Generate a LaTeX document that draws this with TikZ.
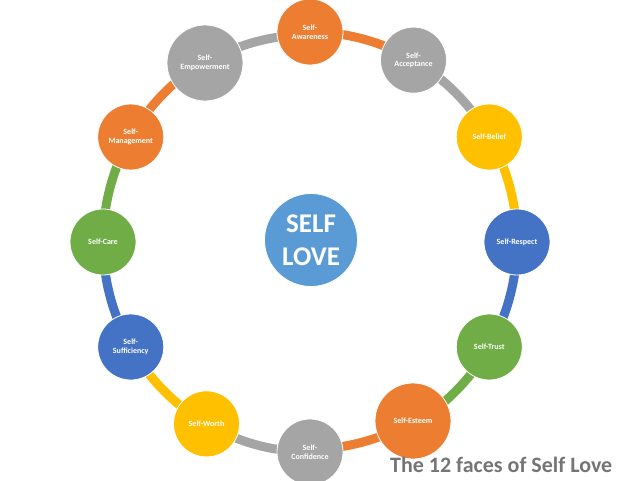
\documentclass[tikz,border=0pt]{standalone}
\usepackage{fontspec}
\setmainfont{Carlito}
\usetikzlibrary{backgrounds}
\definecolor{cOrange}{HTML}{ED7D31}
\definecolor{cGray}{HTML}{A5A5A5}
\definecolor{cYellow}{HTML}{FFC000}
\definecolor{cBlue}{HTML}{4472C4}
\definecolor{cGreen}{HTML}{70AD47}
\definecolor{cLight}{HTML}{5B9BD5}
\definecolor{cTitle}{HTML}{757575}
\newcommand\ringpos[1]{({310+207*cos(#1)},{242-210*sin(#1)})}
\begin{document}
\begin{tikzpicture}[x=1pt,y=-1pt,
  face/.style={circle, draw=white, line width=0.8pt, minimum size=66pt, inner sep=0pt,
    align=center, text=white, font=\fontsize{8}{8.6}\selectfont\bfseries},
  bigface/.style={minimum size=76pt},
  ring/.style={line width=9pt},
  centre/.style={circle, draw=white, line width=0.8pt, fill=cLight, minimum size=93pt,
    inner sep=0pt, align=center, text=white, font=\fontsize{27}{33}\selectfont\bfseries},
  titletext/.style={anchor=base west, inner sep=0pt, text=cTitle,
    font=\fontsize{22}{22}\selectfont\bfseries}
]
\useasboundingbox (0,0) rectangle (618,481);
\node[face, fill=cOrange] (aw) at \ringpos{90} {Self-\\Awareness};
\node[face, fill=cGray] (ac) at \ringpos{60} {Self-\\Acceptance};
\node[face, fill=cYellow] (be) at \ringpos{30} {Self-Belief};
\node[face, fill=cBlue] (re) at \ringpos{0} {Self-Respect};
\node[face, fill=cGreen] (tr) at \ringpos{-30} {Self-Trust};
\node[face, bigface, fill=cOrange] (es) at (413,421) {Self-Esteem};
\node[face, fill=cGray] (co) at \ringpos{-90} {Self-\\Confidence};
\node[face, fill=cYellow] (wo) at \ringpos{-120} {Self-Worth};
\node[face, fill=cBlue] (su) at \ringpos{-150} {Self-\\Sufficiency};
\node[face, fill=cGreen] (ca) at \ringpos{180} {Self-Care};
\node[face, fill=cOrange] (ma) at \ringpos{150} {Self-\\Management};
\node[face, bigface, fill=cGray] (em) at (205,63) {Self-\\Empowerment};
\node[centre] (sl) at (311,240) {SELF\\LOVE};
\node[titletext] (ti) at (390,472) {The 12 faces of Self Love};
\begin{scope}[on background layer]
\draw[ring, cOrange] (aw.center) arc[start angle=90, end angle=60, x radius=207pt, y radius=210pt];
\draw[ring, cGray] (ac.center) arc[start angle=60, end angle=30, x radius=207pt, y radius=210pt];
\draw[ring, cYellow] (be.center) arc[start angle=30, end angle=0, x radius=207pt, y radius=210pt];
\draw[ring, cBlue] (re.center) arc[start angle=0, end angle=-30, x radius=207pt, y radius=210pt];
\draw[ring, cGreen] (tr.center) arc[start angle=-30, end angle=-60, x radius=207pt, y radius=210pt];
\draw[ring, cOrange] (es.center) arc[start angle=-60, end angle=-90, x radius=207pt, y radius=210pt];
\draw[ring, cGray] (co.center) arc[start angle=-90, end angle=-120, x radius=207pt, y radius=210pt];
\draw[ring, cYellow] (wo.center) arc[start angle=-120, end angle=-150, x radius=207pt, y radius=210pt];
\draw[ring, cBlue] (su.center) arc[start angle=-150, end angle=-180, x radius=207pt, y radius=210pt];
\draw[ring, cGreen] (ca.center) arc[start angle=180, end angle=150, x radius=207pt, y radius=210pt];
\draw[ring, cOrange] (ma.center) arc[start angle=150, end angle=120, x radius=207pt, y radius=210pt];
\draw[ring, cGray] (em.center) arc[start angle=120, end angle=90, x radius=207pt, y radius=210pt];
\end{scope}
\end{tikzpicture}
\end{document}
